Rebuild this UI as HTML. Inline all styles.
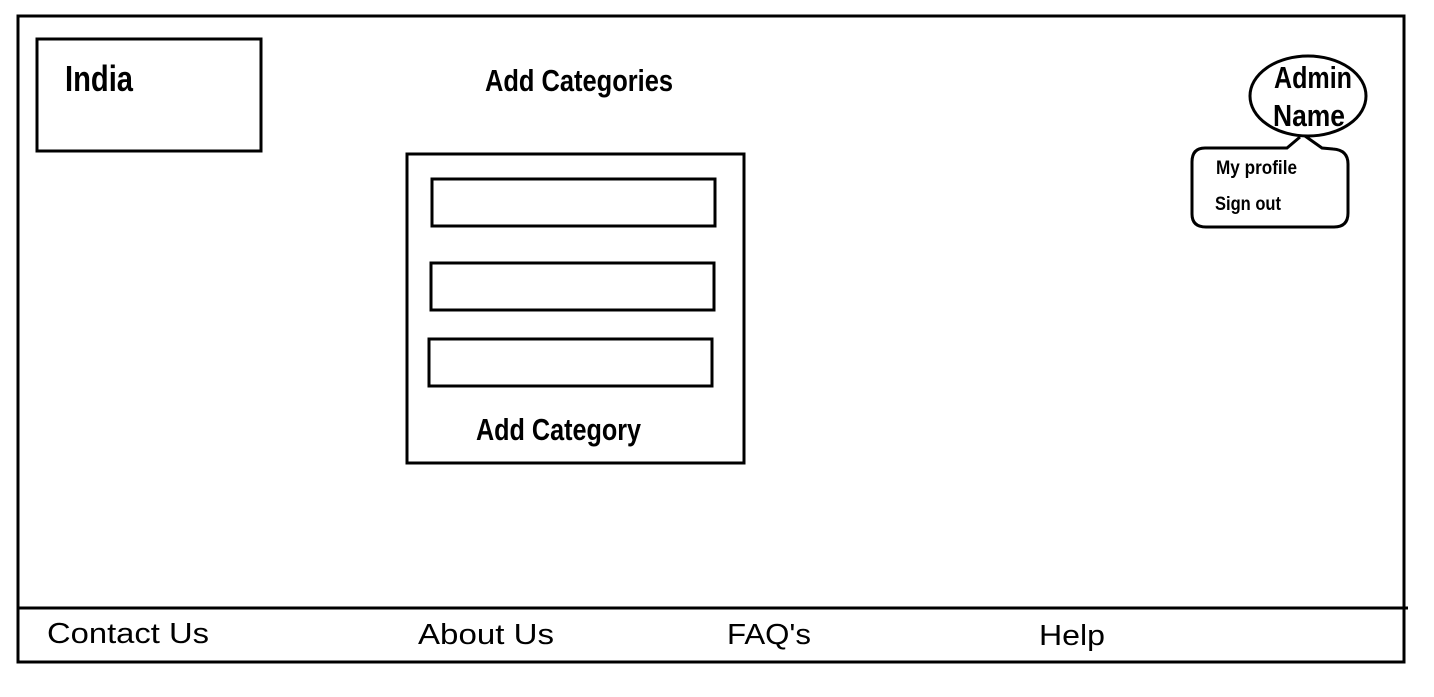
<!DOCTYPE html>
<html><head><meta charset="utf-8"><style>
html,body{margin:0;padding:0;background:#fff;}
svg{display:block;}
.b{font-family:"Liberation Sans Narrow","Liberation Sans",sans-serif;font-weight:bold;fill:#000;}
.r{font-family:"Liberation Sans",sans-serif;fill:#000;}
</style></head><body>
<svg width="1434" height="697" viewBox="0 0 1434 697" xmlns="http://www.w3.org/2000/svg">
<g fill="none" stroke="#000" stroke-width="3">
<rect x="18" y="16" width="1386" height="646"/>
<line x1="18" y1="608" x2="1408" y2="608"/>
<rect x="37" y="39" width="224" height="112"/>
<rect x="407" y="154" width="337" height="309"/>
<rect x="432" y="179" width="283" height="47"/>
<rect x="431" y="263" width="283" height="47"/>
<rect x="429" y="339" width="283" height="47"/>
<ellipse cx="1308" cy="96" rx="58" ry="40"/>
<path d="M1300,137 L1287,148 L1205,148 Q1192,148 1192,162 L1192,214 Q1192,227 1206,227 L1334,227 Q1348,227 1348,213 L1348,164 Q1348,150 1333,149 L1322,148 L1305,136"/>
</g>
<text class="b" x="65" y="91" font-size="36" textLength="68" lengthAdjust="spacingAndGlyphs">India</text>
<text class="b" x="485" y="91" font-size="31" textLength="188" lengthAdjust="spacingAndGlyphs">Add Categories</text>
<text class="b" x="1274" y="88" font-size="31" textLength="78" lengthAdjust="spacingAndGlyphs">Admin</text>
<text class="b" x="1273" y="126" font-size="31" textLength="72" lengthAdjust="spacingAndGlyphs">Name</text>
<text class="b" x="1216" y="174" font-size="19" textLength="81" lengthAdjust="spacingAndGlyphs">My profile</text>
<text class="b" x="1215" y="210" font-size="19" textLength="66" lengthAdjust="spacingAndGlyphs">Sign out</text>
<text class="b" x="476" y="440" font-size="31" textLength="165" lengthAdjust="spacingAndGlyphs">Add Category</text>
<text class="r" x="47" y="643" font-size="29" textLength="162" lengthAdjust="spacingAndGlyphs">Contact Us</text>
<text class="r" x="418" y="644" font-size="29" textLength="136" lengthAdjust="spacingAndGlyphs">About Us</text>
<text class="r" x="727" y="644" font-size="29" textLength="84" lengthAdjust="spacingAndGlyphs">FAQ's</text>
<text class="r" x="1039" y="645" font-size="29" textLength="66" lengthAdjust="spacingAndGlyphs">Help</text>
</svg>
</body></html>
